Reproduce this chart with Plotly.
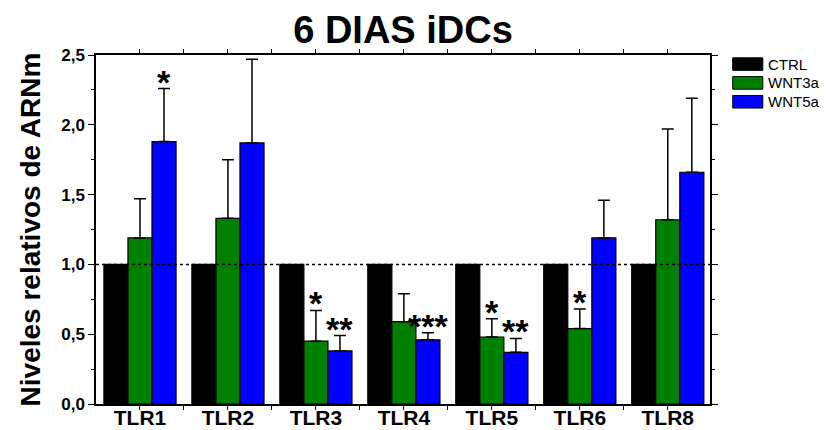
import plotly.graph_objects as go

# Relative mRNA levels of TLRs in 6-day iDCs
categories = ["TLR1", "TLR2", "TLR3", "TLR4", "TLR5", "TLR6", "TLR8"]
series_names = ["CTRL", "WNT3a", "WNT5a"]

ctrl = [1.0, 1.0, 1.0, 1.0, 1.0, 1.0, 1.0]
wnt3a = [1.19, 1.33, 0.45, 0.59, 0.48, 0.54, 1.32]
wnt5a = [1.88, 1.87, 0.38, 0.46, 0.37, 1.19, 1.66]

ctrl_err = [0, 0, 0, 0, 0, 0, 0]
wnt3a_err = [0.28, 0.42, 0.22, 0.20, 0.13, 0.14, 0.65]
wnt5a_err = [0.38, 0.60, 0.11, 0.05, 0.10, 0.27, 0.53]

# significance marks above each bar
wnt3a_sig = ["", "", "*", "", "*", "*", ""]
wnt5a_sig = ["*", "", "**", "***", "**", "", ""]

colors = ["#000000", "#008000", "#0000FF"]
values = [ctrl, wnt3a, wnt5a]
errors = [ctrl_err, wnt3a_err, wnt5a_err]
sigs = [None, wnt3a_sig, wnt5a_sig]

FONT = "Liberation Sans, Arial, sans-serif"
x = list(range(len(categories)))
bargap = 0.18
bar_w = (1 - bargap) / len(series_names)

fig = go.Figure()
for name, vals, errs, col in zip(series_names, values, errors, colors):
    fig.add_trace(go.Bar(
        x=x, y=vals, name=name,
        marker=dict(color=col, line=dict(color="black", width=1.2)),
        error_y=dict(type="data", array=errs, arrayminus=[0] * len(errs),
                     symmetric=False, visible=any(e > 0 for e in errs),
                     color="black", thickness=1.5, width=6),
        showlegend=False,
    ))

annotations = []
for k, (vals, errs, sig) in enumerate(zip(values, errors, sigs)):
    if sig is None:
        continue
    offset = (k - 1) * bar_w
    for i, s in enumerate(sig):
        if s:
            annotations.append(dict(
                x=x[i] + offset, y=vals[i] + errs[i], text=f"<b>{s}</b>",
                xref="x", yref="y", showarrow=False, yanchor="bottom",
                yshift=-14, font=dict(family=FONT, size=34, color="black"),
            ))

# Legend drawn as boxes with labels to the right of the plot
shapes = [dict(type="line", xref="paper", yref="y", x0=0, x1=1, y0=1, y1=1,
               line=dict(color="black", width=1.5, dash="dot"))]
leg_x0, leg_x1 = 1.037, 1.086
leg_y = [0.974, 0.92, 0.866]
for name, col, yy in zip(series_names, colors, leg_y):
    shapes.append(dict(type="rect", xref="paper", yref="paper",
                       x0=leg_x0, x1=leg_x1, y0=yy - 0.018, y1=yy + 0.018,
                       fillcolor=col, line=dict(color="black", width=1)))
    annotations.append(dict(x=leg_x1 + 0.006, y=yy, xref="paper", yref="paper",
                            text=name, showarrow=False, xanchor="left",
                            yanchor="middle",
                            font=dict(family=FONT, size=15, color="black")))

fig.update_layout(
    width=828, height=430,
    margin=dict(l=96, r=118, t=55, b=26),
    paper_bgcolor="white", plot_bgcolor="white",
    barmode="group", bargap=bargap, bargroupgap=0,
    separators=",.",
    title=dict(text="<b>6 DIAS iDCs</b>", x=(96 + 710) / 2 / 828, xanchor="center",
               y=0.93, yanchor="middle",
               font=dict(family=FONT, size=38, color="black")),
    xaxis=dict(
        range=[-0.5, 6.48], tickmode="array", tickvals=x,
        ticktext=[f"<b>{c}</b>" for c in categories],
        showline=True, linecolor="black", linewidth=1.5, mirror="allticks",
        ticks="outside", ticklen=4, tickcolor="black", tickwidth=1,
        minor=dict(tickmode="array", tickvals=[i - 0.5 for i in range(1, len(categories))],
                   ticks="outside", ticklen=4, tickcolor="black"),
        tickfont=dict(family=FONT, size=21, color="black"),
        ticklabelstandoff=-10,
        showgrid=False, zeroline=False, fixedrange=True, automargin=False,
    ),
    yaxis=dict(
        range=[0, 2.5], dtick=0.5, tickformat=".1f",
        showline=True, linecolor="black", linewidth=1.5, mirror="allticks",
        ticks="outside", ticklen=6, tickcolor="black", tickwidth=1.2,
        minor=dict(dtick=0.25, ticks="outside", ticklen=3, tickcolor="black"),
        tickfont=dict(family=FONT, size=17, color="black", weight="bold"),
        title=dict(text="<b>Niveles relativos de ARNm</b>", standoff=12,
                   font=dict(family=FONT, size=28, color="black")),
        showgrid=False, zeroline=False, fixedrange=True, automargin=False,
    ),
    shapes=shapes,
    annotations=annotations,
)

fig.write_html("out.html")
